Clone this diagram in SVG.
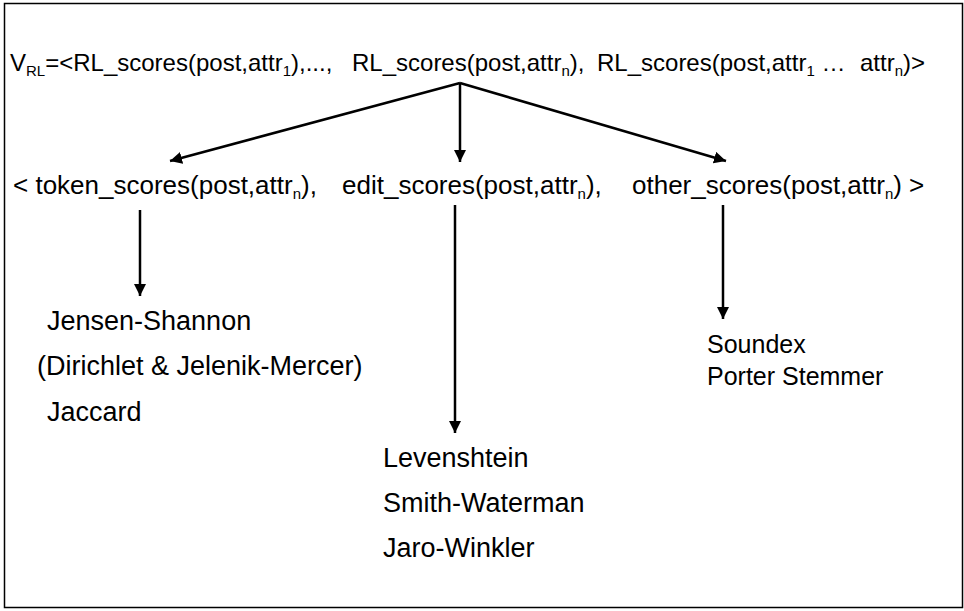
<svg xmlns="http://www.w3.org/2000/svg" width="964" height="611" viewBox="0 0 964 611">
  <defs>
    <marker id="arrow" viewBox="0 0 12 12" refX="12" refY="6" markerWidth="12" markerHeight="12" markerUnits="userSpaceOnUse" orient="auto">
      <path d="M0,0 L12,6 L0,12 Z" fill="#000"/>
    </marker>
    <style>
      text, tspan { font-family: "Liberation Sans", Arial, sans-serif; fill: #000; }
      .top { font-size: 24px; }
      .mid { font-size: 26px; }
      .leaf { font-size: 27px; }
      .leaf-sm { font-size: 25px; }
      .sub { font-size: 15px; }
      .edge { stroke: #000; stroke-width: 2.5; fill: none; marker-end: url(#arrow); }
    </style>
  </defs>
  <rect x="0" y="0" width="964" height="611" fill="#fff"/>
  <rect x="4.5" y="3.5" width="958" height="604" fill="none" stroke="#000" stroke-width="1.5"/>

  <!-- feature vector: one RL score block per attribute plus the combined block -->
  <g id="vector">
    <text class="top" x="10" y="71">V<tspan class="sub" dy="5">RL</tspan><tspan dy="-5">=&lt;RL_scores(post,attr</tspan><tspan class="sub" dy="5">1</tspan><tspan dy="-5">),...,</tspan></text>
    <text class="top" x="352" y="71">RL_scores(post,attr<tspan class="sub" dy="5">n</tspan><tspan dy="-5">),</tspan></text>
    <text class="top" x="597" y="71">RL_scores(post,attr<tspan class="sub" dy="5">1</tspan><tspan dy="-5"> …</tspan></text>
    <text class="top" x="860" y="71">attr<tspan class="sub" dy="5">n</tspan><tspan dy="-5">)&gt;</tspan></text>
  </g>

  <!-- score families for one attribute -->
  <g id="scores">
    <text class="mid" x="13" y="194">&lt; token_scores(post,attr<tspan class="sub" dy="5">n</tspan><tspan dy="-5">),</tspan></text>
    <text class="mid" x="342" y="194">edit_scores(post,attr<tspan class="sub" dy="5">n</tspan><tspan dy="-5">),</tspan></text>
    <text class="mid" x="632" y="194">other_scores(post,attr<tspan class="sub" dy="5">n</tspan><tspan dy="-5">) &gt;</tspan></text>
  </g>

  <g id="token-measures">
    <text class="leaf" x="47" y="330">Jensen-Shannon</text>
    <text class="leaf" x="37" y="375">(Dirichlet &amp; Jelenik-Mercer)</text>
    <text class="leaf" x="47" y="421">Jaccard</text>
  </g>

  <g id="edit-measures">
    <text class="leaf" x="383" y="467">Levenshtein</text>
    <text class="leaf" x="383" y="512">Smith-Waterman</text>
    <text class="leaf" x="383" y="557">Jaro-Winkler</text>
  </g>

  <g id="other-measures">
    <text class="leaf-sm" x="707" y="353">Soundex</text>
    <text class="leaf-sm" x="707" y="385">Porter Stemmer</text>
  </g>

  <g id="connectors">
    <line class="edge" x1="460" y1="83" x2="170" y2="161"/>
    <line class="edge" x1="460" y1="83" x2="460" y2="162"/>
    <line class="edge" x1="460" y1="83" x2="726" y2="161"/>
    <line class="edge" x1="140" y1="210" x2="140" y2="296"/>
    <line class="edge" x1="455" y1="205" x2="455" y2="433"/>
    <line class="edge" x1="723" y1="205" x2="723" y2="319"/>
  </g>
</svg>
